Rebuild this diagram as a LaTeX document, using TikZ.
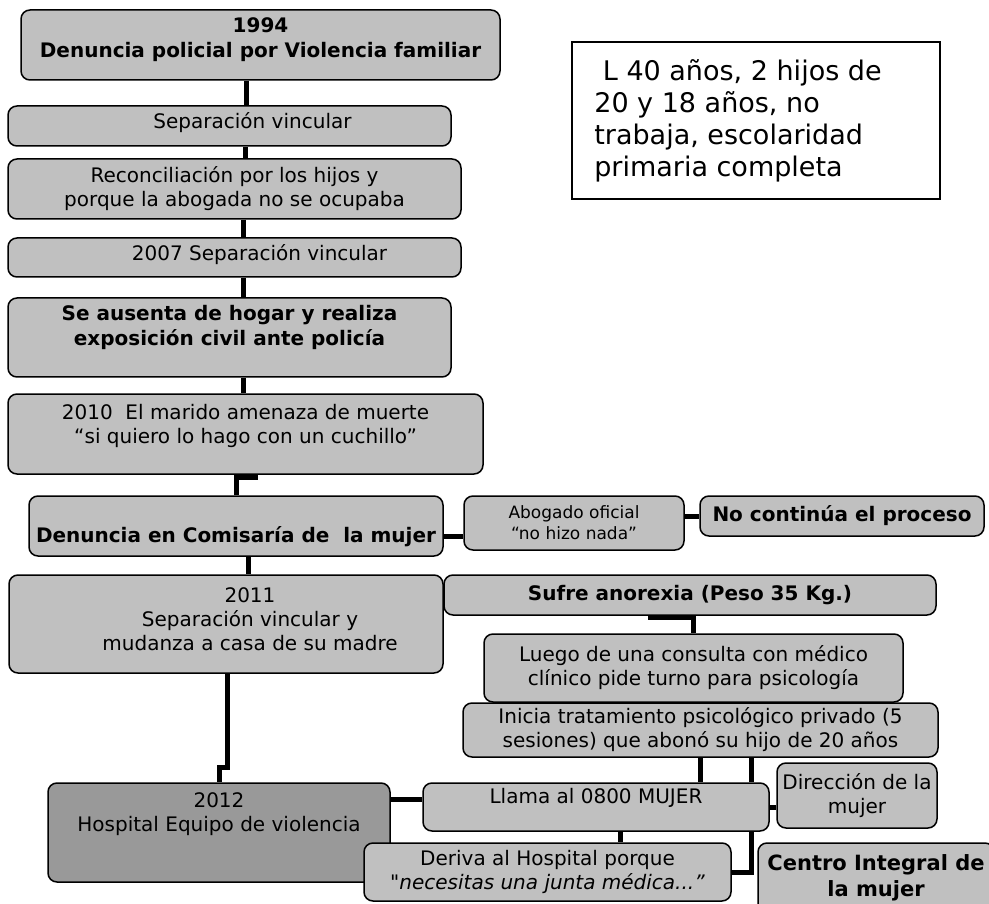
\documentclass[tikz,border=0pt]{standalone}
\usepackage{fontspec}
\setmainfont{DejaVu Sans}[Ligatures=TeXOff]
\usepackage{tikz}
\definecolor{gray1}{HTML}{c0c0c0}
\definecolor{gray2}{HTML}{999999}

\begin{document}
\begin{tikzpicture}[x=1pt, y=-1pt, align=center,
  font=\fontsize{20}{24}\selectfont,
  box/.style={draw, line width=1.5pt, rounded corners=9pt, fill=gray1, inner sep=0pt},
  txt/.style={inner sep=0pt},
  bold/.style={font=\fontsize{20}{25}\selectfont\bfseries},
  link/.style={line width=5pt}]
\useasboundingbox (0,0) rectangle (989,904);

% left column
\node[box, minimum width=479pt, minimum height=70pt] (d1994) at (260.5,45) {};
\node[txt, bold] (d1994t) at ([yshift=5pt]d1994.center) {1994\\Denuncia policial por Violencia familiar};

\node[box, minimum width=443pt, minimum height=40pt] (sep1) at (229.5,126) {};
\node[txt] (sep1t) at ([xshift=23pt,yshift=3pt]sep1.center) {Separación vincular};

\node[box, minimum width=453pt, minimum height=60pt] (recon) at (234.5,189) {Reconciliación por los hijos y\\porque la abogada no se ocupaba};

\node[box, minimum width=453pt, minimum height=39pt] (sep2007) at (234.5,257.5) {};
\node[txt] (sep2007t) at ([xshift=25pt,yshift=3pt]sep2007.center) {2007 Separación vincular};

\node[box, minimum width=443pt, minimum height=79pt] (ausenta) at (229.5,337.5) {};
\node[txt, bold] (ausentat) at ([yshift=10pt]ausenta.center) {Se ausenta de hogar y realiza\\exposición civil ante policía};

\node[box, minimum width=475pt, minimum height=80pt] (amenaza) at (245.5,434) {};
\node[txt] (amenazat) at ([yshift=8.5pt]amenaza.center) {2010\ \ El marido amenaza de muerte\\“si quiero lo hago con un cuchillo”};

\node[box, minimum width=414pt, minimum height=60pt] (comisaria) at (236,526) {};
\node[txt, bold] (comisariat) at ([yshift=-11pt]comisaria.center) {Denuncia en Comisaría de\ \ la mujer};

\node[box, minimum width=434pt, minimum height=98pt] (s2011) at (226,624) {};
\node[txt] (s2011t) at ([xshift=24pt,yshift=5pt]s2011.center) {2011\\Separación vincular y\\mudanza a casa de su madre};

\node[box, fill=gray2, minimum width=342pt, minimum height=99pt] (hospital) at (219,832.5) {};
\node[txt] (hospitalt) at ([yshift=18pt]hospital.center) {2012\\Hospital Equipo de violencia};

% right side
\node[box, minimum width=220pt, minimum height=54pt, font=\fontsize{17}{21}\selectfont] (abogado) at (574,523) {Abogado oficial\\“no hizo nada”};
\node[box, bold, minimum width=284pt, minimum height=40pt] (nocontinua) at (842,516) {No continúa el proceso};

\node[box, bold, minimum width=492pt, minimum height=40pt] (anorexia) at (690,595) {Sufre anorexia (Peso 35 Kg.)};
\node[box, minimum width=419pt, minimum height=68pt] (consulta) at (693.5,668) {Luego de una consulta con médico\\clínico pide turno para psicología};
\node[box, minimum width=475pt, minimum height=54pt] (inicia) at (700.5,730) {Inicia tratamiento psicológico privado (5\\sesiones) que abonó su hijo de 20 años};

\node[box, minimum width=346pt, minimum height=48pt] (llama) at (596,807) {};
\node[txt] (llamat) at ([yshift=9pt]llama.center) {Llama al 0800 MUJER};
\node[box, minimum width=160pt, minimum height=65pt] (direccion) at (857,795.5) {Dirección de la\\mujer};
\node[box, minimum width=367pt, minimum height=58pt] (deriva) at (547.5,872) {Deriva al Hospital porque\\"\textit{necesitas una junta médica...”}};
\node[box, minimum width=236pt, minimum height=69pt, font=\fontsize{21}{26}\selectfont\bfseries] (centro) at (876,877.5) {Centro Integral de\\la mujer};

% data box
\node[draw, line width=1.5pt, fill=white, minimum width=368pt, minimum height=157pt, inner sep=0pt] (info) at (756,120.5) {};
\node[txt, align=left, font=\fontsize{27}{32}\selectfont] (infot) at ([xshift=-18pt]info.center) {~L 40 años, 2 hijos de\\20 y 18 años, no\\trabaja, escolaridad\\primaria completa};

% links
\draw[link] ([xshift=-14.5pt]d1994.south) -- ([xshift=-14.5pt]d1994.south |- sep1.north);
\draw[link] ([xshift=15.5pt]sep1.south) -- ([xshift=15.5pt]sep1.south |- recon.north);
\draw[link] ([xshift=8.5pt]recon.south) -- ([xshift=8.5pt]recon.south |- sep2007.north);
\draw[link] ([xshift=8.5pt]sep2007.south) -- ([xshift=8.5pt]sep2007.south |- ausenta.north);
\draw[link] ([xshift=13.5pt]ausenta.south) -- ([xshift=13.5pt]ausenta.south |- amenaza.north);
\draw[link] ([xshift=9.5pt]amenaza.south) -- ++(0,3) -| (comisaria.north);
\draw[link] ([xshift=12pt]comisaria.south) -- ([xshift=12pt]comisaria.south |- s2011.north);
\draw[link] ([yshift=-10pt]comisaria.east) -- ([yshift=-10pt]comisaria.east -| abogado.west);
\draw[link] (nocontinua.west -| abogado.east) -- (nocontinua.west);
\draw[link] ([xshift=-40pt]anorexia.south) -- ++(0,2) -| (consulta.north);
\draw[link] ([xshift=1pt]s2011.south) -- ++(0,94) -| (hospital.north);
\draw[link] ([yshift=8pt]llama.west -| hospital.east) -- ([yshift=8pt]llama.west);
\draw[link] ([xshift=-0.5pt]inicia.south) -- ([xshift=-0.5pt]inicia.south |- llama.north);
\draw[link] ([xshift=50.5pt]inicia.south) -- ([xshift=50.5pt]inicia.south |- llama.north);
\draw[link] (llama.east) -- (llama.east -| direccion.west);
\draw[link] ([xshift=24pt]llama.south) -- ([xshift=24pt]llama.south |- deriva.north);
\draw[link] ([xshift=155pt]llama.south) |- (deriva.east);
\end{tikzpicture}
\end{document}
